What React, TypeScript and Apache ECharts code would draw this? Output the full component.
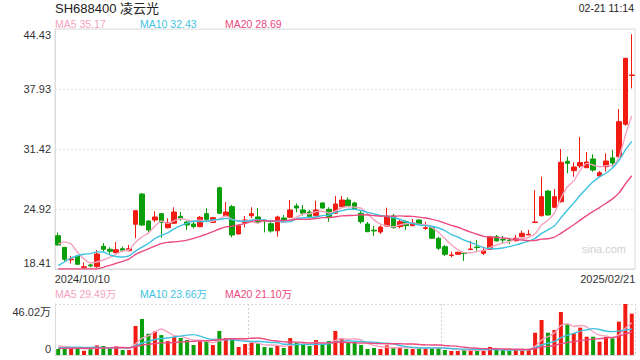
import React, { useEffect, useRef } from "react";
import * as echarts from "echarts";

const dates = [
  "2024/10/10", "2024/10/11", "2024/10/14", "2024/10/15", "2024/10/16", "2024/10/17", "2024/10/18", "2024/10/21", "2024/10/22", "2024/10/23",
  "2024/10/24", "2024/10/25", "2024/10/28", "2024/10/29", "2024/10/30", "2024/10/31", "2024/11/01", "2024/11/04", "2024/11/05", "2024/11/06",
  "2024/11/07", "2024/11/08", "2024/11/11", "2024/11/12", "2024/11/13", "2024/11/14", "2024/11/15", "2024/11/18", "2024/11/19", "2024/11/20",
  "2024/11/21", "2024/11/22", "2024/11/25", "2024/11/26", "2024/11/27", "2024/11/28", "2024/11/29", "2024/12/02", "2024/12/03", "2024/12/04",
  "2024/12/05", "2024/12/06", "2024/12/09", "2024/12/10", "2024/12/11", "2024/12/12", "2024/12/13", "2024/12/16", "2024/12/17", "2024/12/18",
  "2024/12/19", "2024/12/20", "2024/12/23", "2024/12/24", "2024/12/25", "2024/12/26", "2024/12/27", "2024/12/30", "2024/12/31", "2025/01/02",
  "2025/01/03", "2025/01/06", "2025/01/07", "2025/01/08", "2025/01/09", "2025/01/10", "2025/01/13", "2025/01/14", "2025/01/15", "2025/01/16",
  "2025/01/17", "2025/01/20", "2025/01/21", "2025/01/22", "2025/01/23", "2025/01/24", "2025/01/27", "2025/02/05", "2025/02/06", "2025/02/07",
  "2025/02/10", "2025/02/11", "2025/02/12", "2025/02/13", "2025/02/14", "2025/02/17", "2025/02/18", "2025/02/19", "2025/02/20", "2025/02/21",
];

const open = [
  22.02, 20.76, 19.40, 19.82, 18.58, 18.85, 18.66, 20.87, 20.55, 20.18,
  20.61, 20.39, 23.26, 26.54, 23.61, 23.72, 24.41, 22.89, 23.37, 24.12,
  23.51, 23.29, 23.00, 24.41, 23.47, 27.22, 24.19, 25.17, 22.21, 23.43,
  24.19, 24.05, 23.70, 23.32, 22.56, 23.94, 24.02, 25.24, 24.81, 24.59,
  24.19, 25.57, 24.88, 24.46, 25.17, 25.89, 25.57, 24.45, 23.29, 22.62,
  22.42, 23.07, 24.16, 23.00, 23.54, 23.11, 23.72, 22.80, 22.89, 21.74,
  20.83, 19.88, 20.00, 20.16, 20.52, 20.79, 20.11, 20.55, 21.91, 21.60,
  21.55, 21.48, 21.91, 22.10, 23.45, 24.19, 26.86, 25.10, 25.71, 30.09,
  29.07, 29.58, 29.39, 30.34, 28.49, 29.50, 30.45, 30.59, 34.10, 39.40,
];
const close = [
  21.01, 19.46, 19.50, 18.92, 18.65, 18.75, 20.04, 20.55, 20.33, 20.50,
  20.44, 20.61, 24.73, 23.18, 22.64, 24.05, 23.47, 23.43, 24.59, 23.91,
  23.18, 23.00, 24.02, 23.80, 23.97, 24.45, 24.59, 22.10, 23.10, 23.72,
  24.41, 23.47, 23.60, 22.53, 24.05, 23.65, 24.81, 25.02, 24.45, 24.08,
  24.81, 25.02, 24.08, 25.46, 25.89, 25.27, 24.88, 23.54, 22.46, 22.53,
  22.96, 24.08, 22.89, 23.54, 23.11, 23.43, 23.29, 22.89, 21.74, 20.66,
  20.00, 19.93, 20.22, 20.10, 20.58, 20.74, 20.39, 21.91, 21.45, 21.55,
  21.50, 21.74, 22.28, 22.17, 23.51, 26.25, 24.27, 26.25, 29.98, 29.87,
  29.47, 29.96, 30.01, 29.14, 28.85, 30.12, 29.90, 34.38, 41.25, 39.44,
];
const low = [
  20.95, 19.20, 19.00, 18.88, 18.49, 18.60, 18.55, 20.29, 20.04, 20.12,
  20.26, 20.33, 21.74, 23.10, 22.28, 23.50, 21.80, 22.80, 23.30, 23.65,
  22.64, 22.82, 22.95, 23.47, 23.40, 24.37, 24.15, 21.85, 22.15, 22.93,
  23.94, 23.40, 22.39, 22.35, 21.91, 23.55, 23.95, 24.56, 24.19, 23.90,
  24.10, 24.97, 23.54, 24.40, 25.10, 25.20, 24.80, 23.32, 22.40, 21.99,
  22.21, 23.00, 22.78, 22.82, 22.64, 23.05, 23.20, 22.64, 21.70, 20.47,
  19.82, 19.67, 19.95, 19.28, 20.45, 20.39, 19.93, 20.50, 21.40, 21.20,
  21.12, 21.37, 21.85, 22.08, 23.37, 24.10, 24.20, 25.00, 25.60, 28.79,
  28.42, 29.36, 29.36, 28.96, 28.39, 28.96, 29.50, 30.50, 33.95, 38.00,
];
const high = [
  22.35, 20.80, 19.82, 19.93, 19.14, 18.95, 20.47, 21.23, 20.76, 21.34,
  20.83, 21.01, 24.80, 26.62, 23.70, 24.66, 24.45, 23.91, 25.10, 24.59,
  23.61, 23.54, 24.16, 25.00, 24.05, 27.33, 25.67, 25.35, 23.20, 24.16,
  25.10, 25.02, 23.75, 23.72, 24.19, 24.27, 25.89, 25.53, 25.35, 24.80,
  25.82, 25.62, 25.10, 26.32, 26.32, 26.18, 25.70, 24.73, 23.51, 23.07,
  23.15, 25.06, 24.37, 23.72, 23.72, 23.83, 23.80, 23.54, 23.07, 21.91,
  21.01, 20.29, 20.29, 20.20, 21.45, 21.56, 20.83, 21.99, 22.10, 21.99,
  21.80, 22.10, 22.56, 22.64, 26.97, 28.42, 26.97, 27.08, 31.42, 30.59,
  29.98, 32.72, 31.10, 30.85, 29.04, 30.96, 31.31, 35.76, 41.32, 43.86,
];
// volume in 万
const volume = [
  5.4, 5.4, 6.9, 6.9, 3.8, 5.4, 8.7, 8.1, 6.3, 8.1,
  4.5, 4.5, 26.2, 32.5, 19.2, 21.4, 18.0, 12.6, 16.5, 15.3,
  13.5, 9.0, 12.3, 12.0, 9.0, 21.7, 15.3, 14.7, 7.2, 9.9,
  11.1, 10.5, 7.2, 6.6, 8.4, 6.3, 15.3, 11.1, 9.3, 8.1,
  13.5, 9.9, 12.6, 21.7, 15.3, 11.4, 11.1, 9.0, 5.4, 6.3,
  5.4, 8.7, 6.6, 6.6, 5.4, 5.4, 6.6, 6.3, 6.3, 6.9,
  4.5, 3.6, 3.6, 4.5, 5.4, 4.5, 3.6, 7.2, 4.5, 4.5,
  3.6, 4.5, 5.4, 5.4, 20.1, 31.6, 20.1, 22.6, 38.8, 27.7,
  19.6, 24.7, 16.5, 16.5, 12.0, 16.5, 15.6, 30.1, 46.02, 37.3,
];
// sessions before the first visible date (estimated, used only to seed the moving averages)
const priorClose = [15.4, 15.3, 15.5, 15.6, 15.7, 15.8, 15.9, 16.0, 16.1, 16.2, 15.2, 15.3, 16.6, 17.0, 18.1, 18.2, 20.6, 23.5, 22.2];
const priorVolume = [5.0, 5.6, 5.2, 5.8, 5.4, 5.1, 5.7, 5.5, 5.3, 5.4, 4.2, 4.5, 5.8, 5.5, 5.5, 7.5, 12.0, 9.0, 6.6];

const priceTicks = [18.41, 24.915, 31.42, 37.925, 44.43];
const priceTickLabels = ["18.41", "24.92", "31.42", "37.93", "44.43"];
const volTicks = [0, 46.02];
const volTickLabels = ["0", "46.02万"];

const titleText = "SH688400 凌云光";
const timeText = "02-21 11:14";
const maNames = ["MA5", "MA10", "MA20"];
const maPeriods = [5, 10, 20];
const priceLegendValues = ["35.17", "32.43", "28.69"];
const volLegendValues = ["29.49万", "23.66万", "21.10万"];
const watermark = "sina.com";

const MA_COLORS = ["#f5a3bf", "#3fc3e2", "#ec4a80"];
const UP = "#f21b12";
const DOWN = "#0a9f0a";
const FONT = '"Liberation Sans", Arial, "Noto Sans CJK SC", sans-serif';

function movingAverage(prior: number[], values: number[], n: number) {
  const all = prior.concat(values);
  return values.map((_, i) => {
    const end = prior.length + i;
    if (end - n + 1 < 0) return null;
    let s = 0;
    for (let k = end - n + 1; k <= end; k++) s += all[k];
    return +(s / n).toFixed(3);
  });
}

function lookup(ticks: number[], v: number) {
  for (let j = 0; j < ticks.length; j++) {
    if (Math.abs(ticks[j] - v) < 1e-6) return j;
  }
  return -1;
}

export default function App() {
  const ref = useRef<HTMLDivElement>(null);

  useEffect(() => {
    if (!ref.current) return;
    const chart = echarts.init(ref.current, undefined, { renderer: "svg" });

    const yMin = priceTicks[0];
    const yMax = priceTicks[priceTicks.length - 1];

    const candles = dates.map((_, i) => [open[i], close[i], low[i], high[i]]);
    const volBars = volume.map((v, i) => ({
      value: v,
      itemStyle: { color: close[i] >= open[i] ? UP : DOWN },
    }));

    const last = dates.length - 1;
    const axisFont = { fontFamily: FONT, fontSize: 11, color: "#333" };

    // like the source chart, averages that fall below the axis floor are drawn along it
    const priceMA = maPeriods.map((p) =>
      movingAverage(priorClose, close, p).map((v) => (v == null ? null : Math.max(v, yMin)))
    );
    const volMA = maPeriods.map((p) => movingAverage(priorVolume, volume, p));

    const legendTexts: any[] = [];
    maNames.forEach((name, k) => {
      legendTexts.push({
        type: "text",
        left: 55 + k * 85,
        top: 19,
        style: { text: `${name} ${priceLegendValues[k]}`, fill: MA_COLORS[k], font: `10.5px ${FONT}` },
      });
      legendTexts.push({
        type: "text",
        left: 55 + k * 85,
        top: 289,
        style: { text: `${name} ${volLegendValues[k]}`, fill: MA_COLORS[k], font: `10.5px ${FONT}` },
      });
    });

    const option: any = {
      animation: false,
      backgroundColor: "#ffffff",
      textStyle: { fontFamily: FONT },
      grid: [
        { left: 55, right: 5, top: 29, height: 240, show: true, borderColor: "#dcdcdc", borderWidth: 1, outerBoundsMode: "none" },
        { left: 55, right: 5, top: 304, height: 51, outerBoundsMode: "none" },
      ],
      xAxis: [
        {
          type: "category",
          gridIndex: 0,
          data: dates,
          boundaryGap: true,
          axisLine: { show: true, lineStyle: { color: "#dcdcdc" } },
          axisTick: { show: false },
          splitLine: { show: false },
          axisLabel: {
            ...axisFont,
            margin: 4,
            interval: (idx: number) => idx === 0 || idx === last,
            formatter: (v: string, idx: number) => (idx === 0 ? `{l|${v}}` : `{r|${v}}`),
            rich: {
              l: { ...axisFont, padding: [0, 0, 0, 48] },
              r: { ...axisFont, padding: [0, 48, 0, 0] },
            },
          },
        },
        {
          type: "category",
          gridIndex: 1,
          data: dates,
          boundaryGap: true,
          axisLine: { show: true, lineStyle: { color: "#dcdcdc" } },
          axisTick: { show: false },
          axisLabel: { show: false },
          splitLine: {
            show: true,
            interval: (idx: number) => idx === 30 || idx === 60,
            lineStyle: { color: "#d4d4d4", type: [2, 2], width: 1 },
          },
        },
      ],
      yAxis: [
        {
          type: "value",
          gridIndex: 0,
          min: yMin,
          max: yMax,
          axisLine: { show: true, lineStyle: { color: "#dcdcdc" } },
          axisTick: { show: false, customValues: priceTicks },
          axisLabel: {
            ...axisFont,
            margin: 4,
            customValues: priceTicks,
            formatter: (v: number) => {
              const j = lookup(priceTicks, v);
              const t = j >= 0 ? priceTickLabels[j] : String(v);
              if (j === priceTicks.length - 1) return `{t|${t}}`;
              if (j === 0) return `{b|${t}}`;
              return t;
            },
            rich: {
              t: { ...axisFont, padding: [12, 0, 0, 0] },
              b: { ...axisFont, padding: [0, 0, 12, 0] },
            },
          },
          splitLine: { show: true, lineStyle: { color: "#e3e3e3", type: [2, 2], width: 1 } },
        },
        {
          type: "value",
          gridIndex: 1,
          min: volTicks[0],
          max: volTicks[volTicks.length - 1],
          axisLine: { show: true, lineStyle: { color: "#dcdcdc" } },
          axisTick: { show: false, customValues: volTicks },
          axisLabel: {
            ...axisFont,
            margin: 4,
            customValues: volTicks,
            formatter: (v: number) => {
              const j = lookup(volTicks, v);
              const t = j >= 0 ? volTickLabels[j] : String(v);
              if (j === volTicks.length - 1) return `{t|${t}}`;
              if (j === 0) return `{b|${t}}`;
              return t;
            },
            rich: {
              t: { ...axisFont, padding: [15, 0, 0, 0] },
              b: { ...axisFont, padding: [0, 0, 12, 0] },
            },
          },
          splitLine: { show: true, lineStyle: { color: "#d8d8d8", type: [2, 2], width: 1 } },
        },
      ],
      series: [
        {
          type: "candlestick",
          xAxisIndex: 0,
          yAxisIndex: 0,
          data: candles,
          barWidth: 5,
          itemStyle: { color: UP, color0: DOWN, borderColor: UP, borderColor0: DOWN, borderWidth: 1 },
        },
        ...maNames.map((name, k) => ({
          type: "line",
          name,
          xAxisIndex: 0,
          yAxisIndex: 0,
          data: priceMA[k],
          showSymbol: false,
          smooth: 0.2,
          clip: true,
          lineStyle: { color: MA_COLORS[k], width: 1.4 },
        })),
        {
          type: "bar",
          xAxisIndex: 1,
          yAxisIndex: 1,
          data: volBars,
          barWidth: 4,
        },
        ...maNames.map((name, k) => ({
          type: "line",
          name: "v" + name,
          xAxisIndex: 1,
          yAxisIndex: 1,
          data: volMA[k],
          showSymbol: false,
          smooth: 0.2,
          clip: true,
          lineStyle: { color: MA_COLORS[k], width: 1.4 },
        })),
      ],
      graphic: [
        { type: "text", left: 55, top: 2, style: { text: titleText, fill: "#222", font: `13px ${FONT}` } },
        { type: "text", right: 6, top: 3, style: { text: timeText, fill: "#222", font: `10.5px ${FONT}` } },
        { type: "text", left: 582, top: 243, style: { text: watermark, fill: "#cfcfcf", font: `11px ${FONT}` } },
        ...legendTexts,
      ],
    };

    chart.setOption(option);
    return () => chart.dispose();
  }, []);

  return (
    <div
      ref={ref}
      style={{ position: "fixed", left: 0, top: 0, width: 640, height: 360, background: "#fff" }}
    />
  );
}
